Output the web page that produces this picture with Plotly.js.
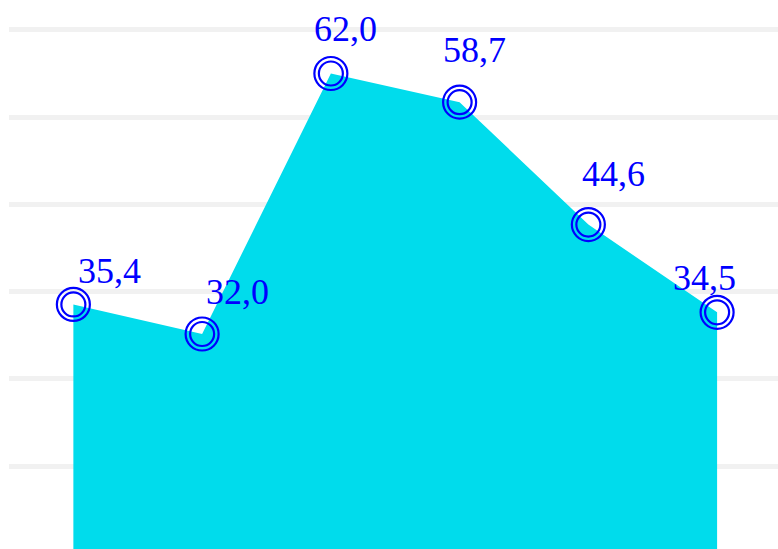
<!DOCTYPE html>
<html>
<head>
<meta charset="utf-8">
<script src="https://cdn.plot.ly/plotly-3.0.1.min.js"></script>
<style>html,body{margin:0;padding:0;background:#fff;}#chart{width:778px;height:549px;}</style>
</head>
<body>
<div id="chart"></div>
<script>
var categories = [0, 1, 2, 3, 4, 5];
var values = [35.4, 32.0, 62.0, 58.7, 44.6, 34.5];
var labelDx = [36, 35, 15, 15, 25, -13];
var labelDy = [33, 42, 45, 52, 51, 34];

var blue = '#0000ff';
var fillColor = 'rgb(0,220,236)';

var area = {
  x: categories, y: values, type: 'scatter', mode: 'lines',
  fill: 'tozeroy', fillcolor: fillColor,
  line: {width: 0, color: fillColor}, hoverinfo: 'skip'
};
var outer = {
  x: categories, y: values, type: 'scatter', mode: 'markers',
  marker: {symbol: 'circle-open', size: 33, color: blue, line: {width: 2.2, color: blue}}
};
var inner = {
  x: categories, y: values, type: 'scatter', mode: 'markers',
  marker: {symbol: 'circle-open', size: 24, color: blue, line: {width: 2.2, color: blue}}
};

var annotations = values.map(function (v, i) {
  return {
    x: categories[i], y: values[i], xref: 'x', yref: 'y',
    text: v.toFixed(1).replace('.', ','), showarrow: false,
    xanchor: 'center', yanchor: 'middle',
    xshift: labelDx[i], yshift: labelDy[i],
    font: {family: 'Liberation Serif, Times New Roman, serif', size: 36, color: blue}
  };
});

var layout = {
  width: 778, height: 549,
  margin: {l: 9, r: 0, t: 0, b: 0, pad: 0},
  paper_bgcolor: '#ffffff', plot_bgcolor: '#ffffff',
  showlegend: false,
  separators: ',.',
  xaxis: {range: [-0.5, 5.473], showgrid: false, zeroline: false, showticklabels: false, showline: false, ticks: ''},
  yaxis: {range: [7.238, 70.465], tickmode: 'linear', tick0: 16.77, dtick: 10.05,
          showgrid: true, gridcolor: 'rgb(241,241,241)', gridwidth: 5,
          zeroline: false, showticklabels: false, showline: false, ticks: ''},
  annotations: annotations
};

Plotly.newPlot('chart', [area, outer, inner], layout, {displayModeBar: false, staticPlot: true});
</script>
</body>
</html>
